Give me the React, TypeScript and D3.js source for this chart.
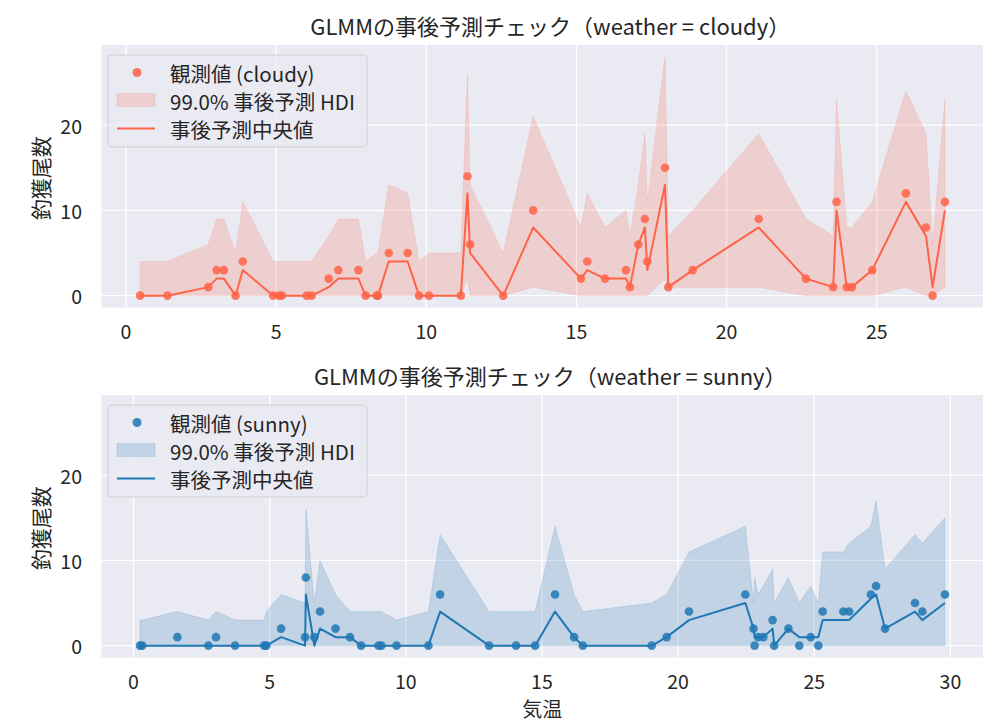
import * as d3 from "d3";

// cloudy: temperature, observed catch, posterior median, 99% HDI bounds
const cloudyTemp = [0.47, 1.38, 2.74, 3.02, 3.26, 3.65, 3.89, 4.9, 5.09, 5.19, 6.02, 6.18, 6.75, 7.07, 7.74, 7.98, 8.35, 8.39, 8.75, 9.38, 9.76, 10.09, 11.15, 11.37, 11.46, 12.56, 13.56, 15.15, 15.36, 15.95, 16.65, 16.78, 17.06, 17.28, 17.36, 17.95, 18.06, 18.87, 21.07, 22.64, 23.55, 23.66, 24.0, 24.17, 24.85, 25.97, 26.64, 26.86, 27.27];
const cloudyObs = [0, 0, 1, 3, 3, 0, 4, 0, 0, 0, 0, 0, 2, 3, 3, 0, 0, 0, 5, 5, 0, 0, 0, 14, 6, 0, 10, 2, 4, 2, 3, 1, 6, 9, 4, 15, 1, 3, 9, 2, 1, 11, 1, 1, 3, 12, 8, 0, 11];
const cloudyMedian = [0, 0, 1, 2, 2, 0, 3, 0, 0, 0, 0, 0, 1, 2, 2, 0, 0, 0, 4, 4, 0, 0, 0, 12, 5, 0, 8, 2, 3, 2, 2, 1, 6, 8, 3, 13, 1, 3, 8, 2, 1, 10, 1, 1, 3, 11, 7, 1, 10];
const cloudyLower = [0, 0, 0, 0, 0, 0, 0, 0, 0, 0, 0, 0, 0, 0, 0, 0, 0, 0, 0, 0, 0, 0, 0, 2, 0, 0, 1, 0, 0, 0, 0, 0, 0, 0, 0, 2, 1, 1, 1, 0, 0, 0, 0, 0, 0, 1, 0, 0, 1];
const cloudyUpper = [4, 4, 6, 9, 9, 5, 11, 4, 4, 4, 4, 4, 7, 9, 9, 4, 5, 5, 13, 12, 4, 5, 5, 26, 13, 5, 21, 8, 12, 8, 10, 7, 13, 19, 11, 28, 7, 10, 19, 9, 7, 23, 8, 8, 11, 24, 19, 6, 23];

// sunny
const sunnyTemp = [0.24, 0.32, 1.61, 2.75, 3.03, 3.73, 4.8, 4.88, 5.42, 6.3, 6.33, 6.64, 6.85, 7.42, 7.95, 8.36, 9.0, 9.1, 9.66, 10.83, 11.26, 13.06, 14.05, 14.75, 15.48, 16.18, 16.5, 19.03, 19.58, 20.4, 22.47, 22.77, 22.81, 22.94, 23.13, 23.47, 23.53, 24.05, 24.45, 24.87, 25.15, 25.31, 26.07, 26.28, 27.08, 27.27, 27.6, 28.7, 28.97, 29.8];
const sunnyObs = [0, 0, 1, 0, 1, 0, 0, 0, 2, 1, 8, 1, 4, 2, 1, 0, 0, 0, 0, 0, 6, 0, 0, 0, 6, 1, 0, 0, 1, 4, 6, 2, 0, 1, 1, 3, 0, 2, 0, 1, 0, 4, 4, 4, 6, 7, 2, 5, 4, 6];
const sunnyMedian = [0, 0, 0, 0, 0, 0, 0, 0, 1, 0, 6, 0, 2, 1, 1, 0, 0, 0, 0, 0, 4, 0, 0, 0, 4, 1, 0, 0, 1, 3, 5, 2, 1, 1, 1, 2, 0, 2, 1, 1, 1, 3, 3, 3, 5.5, 6, 2, 4, 3, 5];
const sunnyLower = [0, 0, 0, 0, 0, 0, 0, 0, 0, 0, 0, 0, 0, 0, 0, 0, 0, 0, 0, 0, 0, 0, 0, 0, 0, 0, 0, 0, 0, 0, 0, 0, 0, 0, 0, 0, 0, 0, 0, 0, 0, 0, 0, 0, 0, 0, 0, 0, 0, 0];
const sunnyUpper = [3, 3, 4, 3, 4, 3, 3, 4, 6, 5, 16, 5, 10, 6, 4, 4, 4, 4, 3, 4, 13, 4, 4, 4, 14, 6, 4, 5, 6, 11, 14, 5, 8, 6, 7, 9, 5, 8, 5, 7, 5, 11, 11, 12, 14, 17, 9, 13, 12, 15];

const xTicksCloudy = [0, 5, 10, 15, 20, 25];
const xTicksSunny = [0, 5, 10, 15, 20, 25, 30];
const yTicks = [0, 10, 20];

const W = 1005;
const H = 726;
const left = 101.5;
const right = 983;
const panelH = 262.6;
const font = "'Noto Sans CJK JP', 'Noto Sans', sans-serif";
const textColor = "#262626";

type Row = { t: number; obs: number; med: number; lo: number; hi: number };

type PanelProps = {
  top: number;
  title: string;
  weather: string;
  temp: number[];
  obs: number[];
  median: number[];
  lower: number[];
  upper: number[];
  color: string;
  xDomain: [number, number];
  xTicks: number[];
};

function Panel({ top, title, weather, temp, obs, median, lower, upper, color, xDomain, xTicks }: PanelProps) {
  const x = d3.scaleLinear().domain(xDomain).range([left, right]);
  const y = d3.scaleLinear().domain([-1.4, 29.4]).range([top + panelH, top]);
  const rows: Row[] = temp.map((t, i) => ({ t, obs: obs[i], med: median[i], lo: lower[i], hi: upper[i] }));

  const area = d3.area<Row>().x((d) => x(d.t)).y0((d) => y(d.lo)).y1((d) => y(d.hi));
  const line = d3.line<Row>().x((d) => x(d.t)).y((d) => y(d.med));

  const lx = 108;
  const ly = top + 10;

  return (
    <g>
      <rect x={left} y={top} width={right - left} height={panelH} fill="#EAEAF2" />
      {xTicks.map((t) => (
        <line key={"gx" + t} x1={x(t)} x2={x(t)} y1={top} y2={top + panelH} stroke="#fff" strokeWidth={1.3} />
      ))}
      {yTicks.map((t) => (
        <line key={"gy" + t} x1={left} x2={right} y1={y(t)} y2={y(t)} stroke="#fff" strokeWidth={1.3} />
      ))}
      <path d={area(rows) ?? ""} fill={color} fillOpacity={0.2} stroke={color} strokeOpacity={0.15} strokeWidth={1} />
      <path d={line(rows) ?? ""} fill="none" stroke={color} strokeWidth={2} strokeLinejoin="round" />
      {rows.map((d, i) => (
        <circle key={i} cx={x(d.t)} cy={y(d.obs)} r={4.3} fill={color} fillOpacity={0.85} />
      ))}

      {xTicks.map((t) => (
        <text key={"tx" + t} x={x(t)} y={top + panelH + 31.5} textAnchor="middle" fontSize={19.5} fill={textColor}>
          {t}
        </text>
      ))}
      {yTicks.map((t) => (
        <text key={"ty" + t} x={82} y={y(t)} textAnchor="end" dominantBaseline="central" fontSize={19.5} fill={textColor}>
          {t}
        </text>
      ))}
      <text x={(left + right) / 2 + 8} y={top - 10} textAnchor="middle" fontSize={22} fill={textColor}>
        {title}
      </text>
      <text
        transform={`translate(40,${top + panelH / 2 + 2}) rotate(-90)`}
        textAnchor="middle"
        dominantBaseline="central"
        fontSize={21}
        fill={textColor}
      >
        釣獲尾数
      </text>

      {/* legend */}
      <rect x={lx} y={ly} width={259} height={92} rx={4} fill="#EAEAF2" fillOpacity={0.8} stroke="#cfcfd6" />
      <circle cx={137} cy={ly + 17.5} r={4.5} fill={color} fillOpacity={0.85} />
      <text x={170} y={ly + 17.5} dominantBaseline="central" fontSize={20.5} fill={textColor}>
        {`観測値 (${weather})`}
      </text>
      <rect x={117} y={ly + 38.5} width={38} height={13} fill={color} fillOpacity={0.2} stroke={color} strokeOpacity={0.15} />
      <text x={170} y={ly + 45.5} dominantBaseline="central" fontSize={20.5} fill={textColor}>
        99.0% 事後予測 HDI
      </text>
      <line x1={117} x2={155} y1={ly + 73.5} y2={ly + 73.5} stroke={color} strokeWidth={2} />
      <text x={170} y={ly + 73.5} dominantBaseline="central" fontSize={20.5} fill={textColor}>
        事後予測中央値
      </text>
    </g>
  );
}

export default function App() {
  return (
    <svg
      width={W}
      height={H}
      style={{ position: "absolute", left: 0, top: 0, background: "#fff", fontFamily: font }}
    >
      <Panel
        top={45}
        title="GLMMの事後予測チェック（weather = cloudy）"
        weather="cloudy"
        temp={cloudyTemp}
        obs={cloudyObs}
        median={cloudyMedian}
        lower={cloudyLower}
        upper={cloudyUpper}
        color="#FF6347"
        xDomain={[(left - 126) / 30.03, (right - 126) / 30.03]}
        xTicks={xTicksCloudy}
      />
      <Panel
        top={395}
        title="GLMMの事後予測チェック（weather = sunny）"
        weather="sunny"
        temp={sunnyTemp}
        obs={sunnyObs}
        median={sunnyMedian}
        lower={sunnyLower}
        upper={sunnyUpper}
        color="#1F77B4"
        xDomain={[(left - 133.5) / 27.23, (right - 133.5) / 27.23]}
        xTicks={xTicksSunny}
      />
      <text x={(left + right) / 2} y={717} textAnchor="middle" fontSize={20} fill={textColor}>
        気温
      </text>
    </svg>
  );
}
